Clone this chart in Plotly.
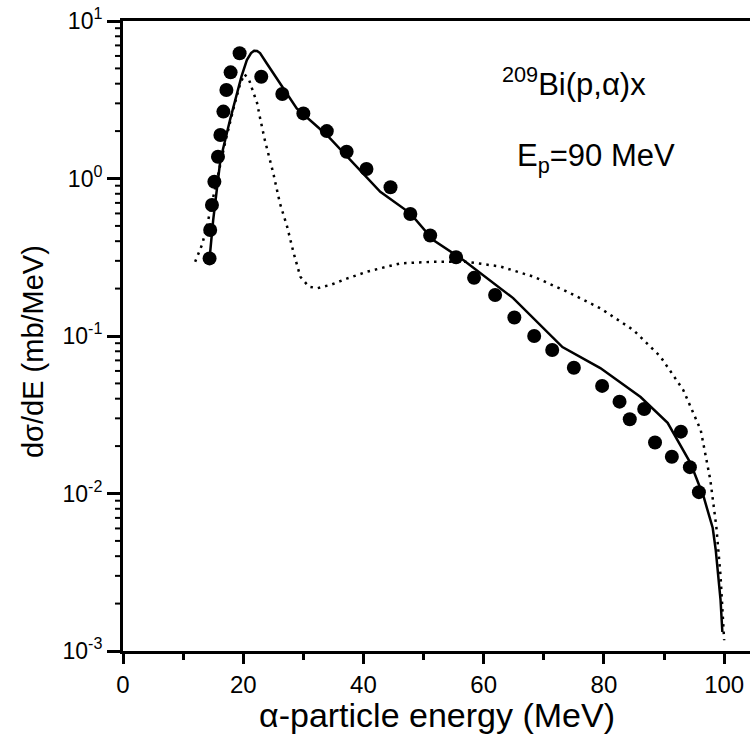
import math
import plotly.graph_objects as go

# Experimental points
exp_x = [14.4, 14.5, 14.8, 15.2, 15.8, 16.2, 16.7, 17.2, 17.9, 19.4, 23.0, 26.5, 30.0, 33.9,
         37.2, 40.5, 44.5, 47.8, 51.1, 55.4, 58.4, 61.9, 65.1, 68.4, 71.4, 75.0, 79.7, 82.6,
         84.3, 86.7, 88.5, 91.3, 92.8, 94.3, 95.8]
exp_y = [0.311, 0.471, 0.679, 0.954, 1.375, 1.89, 2.66, 3.65, 4.72, 6.24, 4.43, 3.44, 2.59, 2.00,
         1.48, 1.15, 0.879, 0.595, 0.435, 0.316, 0.234, 0.182, 0.131, 0.100, 0.0815, 0.0629, 0.0482, 0.0383,
         0.0296, 0.0344, 0.0211, 0.0171, 0.0247, 0.0147, 0.0102]

# Solid theory curve
solid_x = [14.5, 15.0, 16.2, 17.8, 19.7, 20.6, 21.3, 21.8, 22.3, 22.8, 23.9, 26.1, 28.9, 33.9,
           42.8, 47.8, 51.6, 56.6, 64.9, 73.1, 79.4, 86.1, 90.6, 94.4, 96.6, 98.1, 98.6, 99.4, 99.7]
solid_y = [0.341, 0.545, 1.31, 2.35, 4.43, 5.65, 6.25, 6.48, 6.45, 6.26, 5.39, 4.02, 2.79, 1.89,
           0.824, 0.601, 0.407, 0.304, 0.174, 0.0851, 0.0626, 0.041, 0.0281, 0.0156, 0.0095, 0.00604,
           0.00438, 0.00211, 0.00132]

# Dotted theory curve
dot_x = [12.0, 13.2, 14.2, 15.5, 17.0, 18.5, 19.5, 20.2, 21.0, 21.7, 22.3, 22.8, 23.6, 25.0,
         26.1, 27.3, 28.4, 29.5, 30.9, 32.3, 34.5, 37.3, 40.6, 42.8, 46.1, 51.7, 57.2, 62.8,
         68.3, 73.9, 79.4, 84.9, 89.4, 93.2, 96.1, 97.7, 98.7, 99.4, 100.0]
dot_y = [0.296, 0.384, 0.551, 0.95, 1.7, 2.9, 4.0, 4.6, 4.2, 3.5, 3.02, 2.42, 1.75, 1.08,
         0.697, 0.495, 0.335, 0.238, 0.206, 0.201, 0.211, 0.232, 0.256, 0.269, 0.289, 0.296, 0.296, 0.276,
         0.238, 0.191, 0.150, 0.109, 0.074, 0.0454, 0.0253, 0.0122, 0.00615, 0.00300, 0.00117]

x_ticks = [0, 20, 40, 60, 80, 100]
x_minor = [10, 30, 50, 70, 90]
y_ticks = [1e-3, 1e-2, 1e-1, 1, 10]
y_ticktext = ["10<sup>-3</sup>", "10<sup>-2</sup>", "10<sup>-1</sup>", "10<sup>0</sup>", "10<sup>1</sup>"]
y_minor = [m * d for d in [1e-3, 1e-2, 1e-1, 1] for m in range(2, 10)]
Y_LOG_RANGE = [-3, 1]

FONT = "Arial, Liberation Sans, Helvetica, sans-serif"

fig = go.Figure()
fig.add_trace(go.Scatter(x=dot_x, y=dot_y, mode="lines",
                         line=dict(color="black", width=2.5, dash="2.5px,5px")))
fig.add_trace(go.Scatter(x=solid_x, y=solid_y, mode="lines",
                         line=dict(color="black", width=2.5)))
fig.add_trace(go.Scatter(x=exp_x, y=exp_y, mode="markers",
                         marker=dict(color="black", size=14, symbol="circle")))

fig.update_layout(
    width=750, height=745,
    margin=dict(l=123, r=0, t=21, b=94),
    paper_bgcolor="white", plot_bgcolor="white",
    showlegend=False,
    font=dict(family=FONT, color="black", size=23),
)

fig.update_xaxes(
    range=[0, 104.3], tickmode="array", tickvals=x_ticks, ticktext=[str(v) for v in x_ticks],
    ticks="outside", ticklen=10, tickwidth=2.5, tickcolor="black",
    showline=True, linewidth=3, linecolor="black", mirror=True,
    showgrid=False, zeroline=False, automargin=False,
    minor=dict(ticks="outside", ticklen=6, tickwidth=2.5, tickcolor="black",
               tickmode="array", tickvals=x_minor, showgrid=False),
    tickfont=dict(size=24, family=FONT),
)
fig.update_yaxes(
    type="log", range=Y_LOG_RANGE, tickmode="array", tickvals=y_ticks, ticktext=y_ticktext,
    ticks="outside", ticklen=13, tickwidth=2.5, tickcolor="black",
    showline=True, linewidth=3, linecolor="black", mirror=False,
    showgrid=False, zeroline=False, automargin=False,
    tickfont=dict(size=23, family=FONT),
)

# minor ticks of the log y axis (outside, shorter than the decade ticks)
plot_w = 750 - 123
for v in y_minor:
    yp = (math.log10(v) - Y_LOG_RANGE[0]) / (Y_LOG_RANGE[1] - Y_LOG_RANGE[0])
    fig.add_shape(type="line", xref="paper", yref="paper", x0=-8 / plot_w, x1=0, y0=yp, y1=yp,
                  line=dict(color="black", width=2), layer="above")

fig.add_annotation(text="α-particle energy (MeV)", xref="paper", yref="paper",
                   x=0.5, y=-0.1016, xanchor="center", yanchor="middle", showarrow=False,
                   font=dict(size=34, family=FONT))
fig.add_annotation(text="dσ/dE (mb/MeV)", xref="paper", yref="paper",
                   x=-0.1435, y=0.4746, xanchor="center", yanchor="middle", showarrow=False,
                   textangle=-90, font=dict(size=29, family=FONT))
fig.add_annotation(text="<sup>209</sup>Bi(p,α)x", xref="paper", yref="paper",
                   x=0.601, y=0.903, xanchor="left", yanchor="middle", showarrow=False,
                   font=dict(size=31, family=FONT))
fig.add_annotation(text="E<sub>p</sub>=90 MeV", xref="paper", yref="paper",
                   x=0.625, y=0.782, xanchor="left", yanchor="middle", showarrow=False,
                   font=dict(size=31, family=FONT))

fig.write_html("out.html", config={"displayModeBar": False},
               post_script="document.body.style.margin='0px';document.body.style.overflow='hidden';")
